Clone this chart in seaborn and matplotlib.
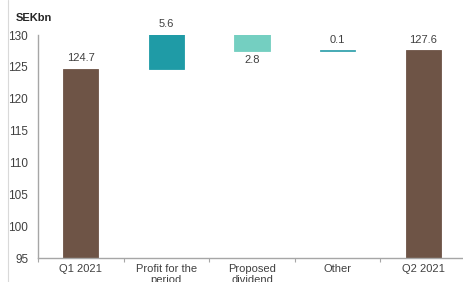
import matplotlib
matplotlib.use('Agg')
import matplotlib.pyplot as plt
from matplotlib.lines import Line2D
import seaborn as sns

# Waterfall data (SEKbn)
categories = ['Q1 2021', 'Profit for the\nperiod', 'Proposed\ndividend', 'Other', 'Q2 2021']
changes = [124.7, 5.6, -2.8, 0.1, 127.6]
is_total = [True, False, False, False, True]
value_labels = ['124.7', '5.6', '2.8', '0.1', '127.6']
bar_colors = ['#6E5446', '#1F9BA6', '#74CFC1', '#3AA5B0', '#6E5446']
y_ticks = [95, 100, 105, 110, 115, 120, 125, 130]

sns.set_theme(style='white')
plt.rcParams['font.family'] = ['Liberation Sans', 'DejaVu Sans']

fig = plt.figure(figsize=(4.63, 2.82), dpi=100)
ax = fig.add_axes([38 / 463, 24 / 282, 428 / 463, 223 / 282])

# compute floating bar bases
running = 0.0
bases, heights = [], []
for val, total in zip(changes, is_total):
    if total:
        bases.append(0.0)
        heights.append(val)
        running = val
    else:
        start = running
        running = running + val
        bases.append(min(start, running))
        heights.append(abs(val))

for cat, b, h, c in zip(categories, bases, heights, bar_colors):
    sns.barplot(x=[cat], y=[h], order=categories, bottom=b, color=c,
                width=0.41, saturation=1, edgecolor=c, linewidth=0.6, ax=ax)

ax.set_ylim(95, 130)
ax.set_xlim(-0.5, 4.5)
ax.set_yticks(y_ticks)

# value labels
for i, (b, h, val, lab) in enumerate(zip(bases, heights, changes, value_labels)):
    if not is_total[i] and val < 0:
        ax.annotate(lab, (i, b), xytext=(0, -3), textcoords='offset points',
                    ha='center', va='top', fontsize=8, color='#404040',
                    annotation_clip=False)
    else:
        top = min(b + h, 130)
        ax.annotate(lab, (i, top), xytext=(0, 4), textcoords='offset points',
                    ha='center', va='bottom', fontsize=8, color='#404040',
                    annotation_clip=False)

# axis styling
for side in ['top', 'right']:
    ax.spines[side].set_visible(False)
ax.spines['left'].set_color('#A6A6A6')
ax.spines['bottom'].set_color('#A6A6A6')
ax.spines['left'].set_linewidth(1.0)
ax.spines['bottom'].set_linewidth(1.0)
ax.set_xlabel('')
ax.set_ylabel('')
ax.tick_params(axis='x', which='major', length=0, pad=4, labelsize=8, labelcolor='#404040')
ax.set_xticks([x + 0.5 for x in range(-1, 5)], minor=True)
ax.tick_params(axis='x', which='minor', length=3, color='#A6A6A6', width=0.8, bottom=True)
ax.tick_params(axis='y', length=0, pad=7, labelsize=8.5, labelcolor='#404040')
ax.set_facecolor('white')

fig.text(16 / 463, 1 - 18 / 282, 'SEKbn', fontsize=8, fontweight='bold',
         color='#262626', va='center', ha='left')
fig.add_artist(Line2D([8 / 463, 8 / 463], [0, 1], color='#D9D9D9', lw=0.8))

fig.savefig('out.png', dpi=100)
